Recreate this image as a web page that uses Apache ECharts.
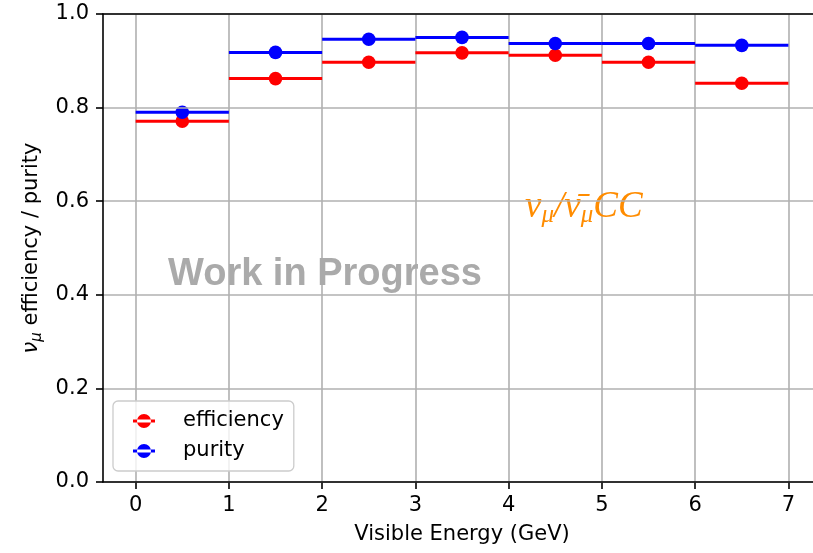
<!DOCTYPE html>
<html>
<head>
<meta charset="utf-8">
<script src="https://cdn.jsdelivr.net/npm/echarts@6/dist/echarts.min.js"></script>
<style>
  html, body { margin: 0; padding: 0; background: #fff; }
  #chart { width: 813px; height: 553px; }
</style>
</head>
<body>
<div id="chart"></div>
<script>
// Visible-energy bins (GeV): centres and half-widths
const binCenters = [0.5, 1.5, 2.5, 3.5, 4.5, 5.5, 6.5];
const binHalfWidths = [0.5, 0.5, 0.5, 0.5, 0.5, 0.5, 0.5];

// Selection efficiency and purity per bin
const efficiency = [0.771, 0.862, 0.897, 0.917, 0.912, 0.897, 0.852];
const purity = [0.790, 0.918, 0.946, 0.950, 0.937, 0.937, 0.933];

// Axis ticks
const xTicks = [0, 1, 2, 3, 4, 5, 6, 7];
const yTicks = [0.0, 0.2, 0.4, 0.6, 0.8, 1.0];

const FONT = 'DejaVu Sans';
const FS = 21;

function rows(values) {
  return values.map((v, i) => [binCenters[i], v, binHalfWidths[i]]);
}

// Horizontal bin-width bar plus a round marker at the bin centre
function errorbarItem(color) {
  return function (params, api) {
    const x = api.value(0), y = api.value(1), hw = api.value(2);
    const a = api.coord([x - hw, y]);
    const b = api.coord([x + hw, y]);
    const c = api.coord([x, y]);
    return {
      type: 'group',
      children: [
        { type: 'line', shape: { x1: a[0], y1: a[1], x2: b[0], y2: b[1] },
          style: { stroke: color, lineWidth: 3 } },
        { type: 'circle', shape: { cx: c[0], cy: c[1], r: 6.8 },
          style: { fill: color } }
      ]
    };
  };
}

const legendIcon = 'path://M0,5.5H22V8.5H0Z M4,7a7,7 0 1,0 14,0a7,7 0 1,0 -14,0Z';

const chart = echarts.init(document.getElementById('chart'), null, { renderer: 'canvas' });

// Data range 0..7 GeV, framed by a 0.35 GeV margin on each side
const xPad = 0.35;
const gridLeft = 103, gridTop = 14, gridBottom = 71;
const unit = 93.25;                          // pixels per GeV
const innerLeft = gridLeft + xPad * unit;
const innerRight = 813 - (innerLeft + 7 * unit);

const spine = { color: '#000', width: 1.6 };
const gridLine = { color: '#b0b0b0', width: 1.6 };

chart.setOption({
  animation: false,
  backgroundColor: '#ffffff',
  textStyle: { fontFamily: FONT },
  grid: [
    // frame box; its right side lies beyond the canvas
    { left: gridLeft, top: gridTop, bottom: gridBottom, right: -40, outerBoundsMode: 'none' },
    // data area 0..7 GeV
    { left: innerLeft, top: gridTop, bottom: gridBottom, right: innerRight, outerBoundsMode: 'none' }
  ],
  xAxis: [
    { // bottom spine
      gridIndex: 0, type: 'value', position: 'bottom', min: 0, max: 1, z: 10,
      axisLine: { show: true, onZero: false, lineStyle: spine },
      axisTick: { show: false }, axisLabel: { show: false }, splitLine: { show: false }
    },
    { // top spine
      gridIndex: 0, type: 'value', position: 'top', min: 0, max: 1, z: 10,
      axisLine: { show: true, onZero: false, lineStyle: spine },
      axisTick: { show: false }, axisLabel: { show: false }, splitLine: { show: false }
    },
    { // ticks, labels, title and vertical grid lines at integer GeV
      gridIndex: 1, type: 'value', position: 'bottom', min: xTicks[0], max: xTicks[xTicks.length - 1], interval: 1,
      axisLine: { show: false, onZero: false },
      axisTick: { show: true, inside: false, length: 7, lineStyle: spine },
      axisLabel: { show: true, margin: 13, fontFamily: FONT, fontSize: FS, color: '#000' },
      splitLine: { show: true, lineStyle: gridLine },
      name: 'Visible Energy (GeV)', nameLocation: 'middle', nameGap: 42,
      nameTextStyle: { fontFamily: FONT, fontSize: FS, color: '#000' }
    }
  ],
  yAxis: [
    {
      gridIndex: 0, type: 'value', min: yTicks[0], max: yTicks[yTicks.length - 1], interval: 0.2, z: 10,
      axisLine: { show: true, onZero: false, lineStyle: spine },
      axisTick: { show: true, inside: false, length: 7, lineStyle: spine },
      axisLabel: { show: true, margin: 14, fontFamily: FONT, fontSize: FS, color: '#000',
        formatter: v => v.toFixed(1) },
      splitLine: { show: true, lineStyle: gridLine },
      name: '{n|ν}{s|μ}{t| efficiency / purity}', nameLocation: 'middle', nameGap: 58, nameRotate: 90,
      nameTextStyle: {
        fontFamily: FONT, color: '#000',
        rich: {
          n: { fontFamily: FONT, fontSize: FS, fontStyle: 'italic', lineHeight: 26 },
          s: { fontFamily: FONT, fontSize: 15, fontStyle: 'italic', lineHeight: 16, verticalAlign: 'bottom' },
          t: { fontFamily: FONT, fontSize: FS, lineHeight: 26 }
        }
      }
    },
    { gridIndex: 1, type: 'value', min: 0, max: 1, show: false }
  ],
  legend: {
    orient: 'vertical', left: 113, top: 401,
    padding: [8, 10, 8, 20], itemGap: 6,
    itemWidth: 22, itemHeight: 14,
    backgroundColor: 'rgba(255,255,255,0.8)', borderColor: '#cccccc', borderWidth: 1.3, borderRadius: 5,
    textStyle: { fontFamily: FONT, fontSize: FS, color: '#000', lineHeight: 24, padding: [0, 0, 0, 23] },
    data: [
      { name: 'efficiency', icon: legendIcon, itemStyle: { color: '#ff0000' } },
      { name: 'purity', icon: legendIcon, itemStyle: { color: '#0000ff' } }
    ]
  },
  graphic: [
    { type: 'text', left: 168, top: 256, z: 5,
      style: { text: 'Work in Progress', fontFamily: 'Liberation Sans', fontWeight: 'bold', fontSize: 38, fill: '#aaaaaa' } },
    { type: 'text', left: 525, top: 189, z: 5,
      style: {
        text: '{n|ν}{s|μ}{n|/ν̄}{s|μ}{n|CC}',
        fill: '#ff8c00',
        rich: {
          n: { fontFamily: 'Liberation Serif', fontStyle: 'italic', fontSize: 37, lineHeight: 40, fill: '#ff8c00' },
          s: { fontFamily: 'Liberation Serif', fontStyle: 'italic', fontSize: 25, lineHeight: 22, verticalAlign: 'bottom', fill: '#ff8c00' }
        }
      } }
  ],
  series: [
    { name: 'efficiency', type: 'custom', xAxisIndex: 2, yAxisIndex: 1,
      itemStyle: { color: '#ff0000' }, renderItem: errorbarItem('#ff0000'),
      encode: { x: 0, y: 1 }, data: rows(efficiency), z: 3 },
    { name: 'purity', type: 'custom', xAxisIndex: 2, yAxisIndex: 1,
      itemStyle: { color: '#0000ff' }, renderItem: errorbarItem('#0000ff'),
      encode: { x: 0, y: 1 }, data: rows(purity), z: 4 }
  ]
});
</script>
</body>
</html>
